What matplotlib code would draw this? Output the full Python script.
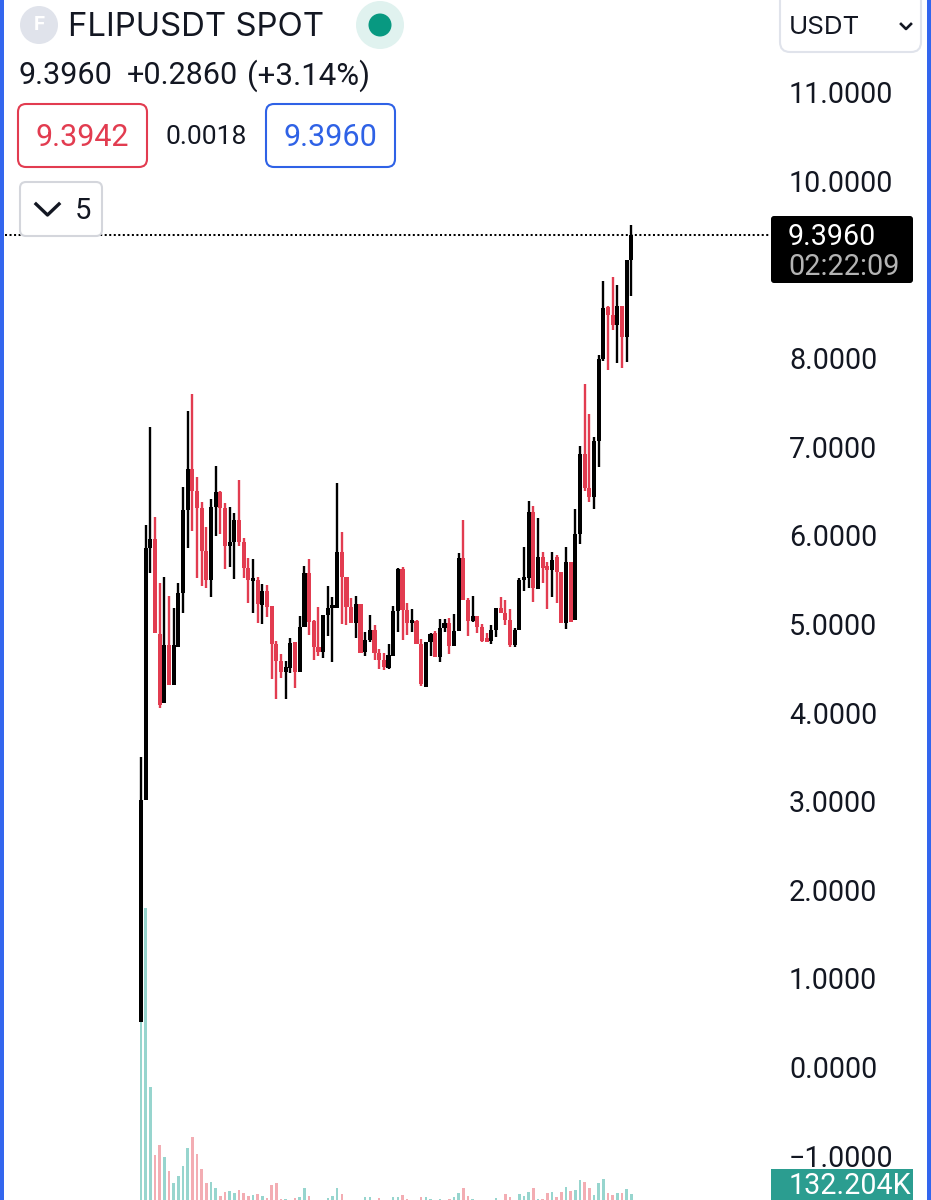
import numpy as np
import matplotlib
matplotlib.use("Agg")
import matplotlib.pyplot as plt
from matplotlib.patches import FancyBboxPatch, Circle, Rectangle

plt.rcParams['font.family'] = ['Inter', 'DejaVu Sans']

# candles
opens = [0.51, 3.01, 5.86, 5.96, 4.89, 4.11, 4.76, 4.31, 4.74, 5.35, 6.29, 6.75, 6.50, 6.31, 5.82, 5.50, 6.32, 6.49,
         6.31, 5.88, 5.93, 6.17, 5.93, 5.63, 5.49, 5.50, 5.21, 5.37, 5.20, 4.77, 4.58, 4.46, 4.50, 4.80, 4.46, 4.97,
         5.58, 5.03, 4.74, 4.68, 5.10, 5.18, 5.18, 5.81, 5.53, 5.19, 5.01, 5.23, 4.68, 4.82, 4.93, 4.67, 4.59, 4.50,
         4.64, 5.15, 5.62, 5.16, 5.01, 5.03, 4.77, 4.29, 4.80, 4.90, 4.63, 4.95, 5.01, 4.75, 4.92, 5.74, 5.27, 5.03,
         5.09, 4.97, 4.84, 4.81, 4.93, 5.18, 5.12, 5.05, 4.76, 4.93, 5.50, 5.52, 6.26, 5.40, 5.76, 5.65, 5.61, 5.76,
         5.59, 5.01, 5.70, 5.05, 6.02, 6.92, 6.53, 6.43, 7.07, 7.99, 8.58, 8.49, 8.37, 8.59, 8.24, 9.11]
highs = [3.50, 6.12, 7.22, 6.21, 5.46, 5.53, 5.32, 5.18, 5.46, 6.55, 7.40, 7.60, 6.66, 6.38, 6.09, 6.41, 6.78, 6.50,
         6.37, 6.32, 6.25, 6.63, 5.97, 5.74, 5.73, 5.53, 5.45, 5.44, 5.20, 4.81, 4.66, 4.58, 4.84, 4.80, 5.09, 5.65,
         5.73, 5.05, 5.19, 5.10, 5.43, 5.30, 6.59, 6.04, 5.53, 5.29, 5.32, 5.23, 4.91, 5.10, 4.99, 4.72, 4.67, 4.77,
         5.20, 5.63, 5.64, 5.24, 5.17, 5.05, 4.83, 4.80, 4.90, 4.92, 5.06, 5.06, 5.07, 5.11, 5.80, 6.17, 5.29, 5.32,
         5.09, 5.00, 4.90, 4.99, 5.18, 5.30, 5.27, 5.17, 4.95, 5.52, 5.87, 6.39, 6.33, 6.20, 5.81, 5.70, 5.81, 5.78,
         5.59, 5.87, 5.70, 6.30, 7.01, 7.71, 7.37, 7.11, 8.04, 8.87, 8.59, 8.92, 8.83, 8.59, 9.11, 9.50]
lows = [0.51, 3.01, 5.58, 4.90, 4.05, 4.11, 4.31, 4.31, 4.74, 5.12, 5.86, 6.05, 5.52, 5.43, 5.41, 5.30, 5.99, 6.02,
        5.62, 5.64, 5.51, 5.88, 5.52, 5.24, 5.12, 5.01, 5.00, 5.08, 4.38, 4.15, 4.39, 4.15, 4.45, 4.28, 4.46, 4.97,
        4.88, 4.59, 4.64, 4.62, 4.86, 4.57, 5.18, 5.00, 4.99, 5.01, 4.84, 4.67, 4.64, 4.80, 4.59, 4.49, 4.48, 4.49,
        4.64, 4.91, 4.82, 4.88, 4.91, 4.77, 4.30, 4.29, 4.64, 4.63, 4.57, 4.91, 4.66, 4.75, 4.92, 5.27, 4.86, 5.02,
        4.90, 4.80, 4.80, 4.77, 4.85, 5.12, 4.99, 4.74, 4.74, 4.93, 5.37, 5.41, 5.25, 5.40, 5.46, 5.17, 5.30, 5.24,
        5.01, 4.94, 5.02, 5.05, 5.90, 6.50, 6.38, 6.30, 6.77, 7.97, 7.87, 8.32, 7.95, 7.89, 7.96, 8.70]
closes = [3.01, 5.86, 5.96, 4.90, 4.09, 4.76, 4.31, 4.76, 5.35, 6.29, 6.75, 6.50, 6.31, 5.82, 5.50, 6.32, 6.49, 6.31,
          5.88, 5.93, 6.17, 5.93, 5.63, 5.50, 5.51, 5.23, 5.37, 5.19, 4.77, 4.58, 4.46, 4.51, 4.79, 4.46, 4.97, 5.58,
          5.02, 4.74, 4.68, 5.10, 5.18, 5.19, 5.81, 5.53, 5.19, 5.01, 5.23, 4.67, 4.82, 4.93, 4.67, 4.59, 4.51, 4.65,
          5.15, 5.62, 5.16, 5.01, 5.03, 4.77, 4.32, 4.80, 4.89, 4.63, 4.95, 5.01, 4.75, 4.92, 5.74, 5.27, 5.03, 5.09,
          4.97, 4.81, 4.80, 4.93, 5.18, 5.12, 5.05, 4.76, 4.93, 5.50, 5.52, 6.26, 5.41, 5.76, 5.63, 5.61, 5.72, 5.59,
          5.01, 5.70, 5.02, 6.02, 6.92, 6.53, 6.43, 7.07, 7.99, 8.57, 8.49, 8.37, 8.59, 8.24, 9.11, 9.396]
# volume in K
volumes = [2220, 3564, 1416, 600, 720, 576, 408, 264, 348, 468, 684, 816, 612, 432, 264, 276, 204, 108,
           156, 168, 144, 180, 144, 108, 120, 132, 108, 84, 240, 264, 72, 72, 48, 84, 96, 204,
           108, 48, 48, 48, 84, 108, 204, 132, 48, 48, 48, 48, 96, 96, 48, 84, 48, 48,
           96, 96, 120, 72, 48, 48, 96, 96, 72, 48, 72, 48, 72, 96, 144, 204, 108, 72,
           48, 48, 48, 48, 84, 48, 132, 96, 48, 132, 108, 156, 204, 72, 72, 144, 156, 96,
           156, 216, 168, 180, 300, 276, 204, 120, 264, 312, 144, 120, 144, 144, 192, 132.204]

price_ticks = [-1, 0, 1, 2, 3, 4, 5, 6, 7, 8, 10, 11]

RED = "#e23c50"
BLUE = "#2f62e6"
DARK = "#131722"
NUM = ['Roboto', 'DejaVu Sans']  # digits have to be tabular, Inter's are not by default

fig = plt.figure(figsize=(9.31, 12), dpi=100)
ax = fig.add_axes([0, 0, 1, 1])
ax.set_xlim(-30.19, 169.16)
ax.set_ylim(-1.501, 12.043)

x = np.arange(len(opens))
o = np.array(opens)
c = np.array(closes)
up = c >= o
colors = ["black" if u else RED for u in up]

# volume sits on its own scale at the bottom
ax2 = ax.twinx()
ax2.set_ylim(60, 14460)
ax2.bar(x, volumes, width=0.55, color=["#97d5ce" if u else "#f3adb3" for u in up])
ax2.axis("off")
ax.set_zorder(ax2.get_zorder() + 1)
ax.patch.set_visible(False)
fig.patch.set_facecolor("white")

ax.vlines(x, lows, highs, colors=colors, linewidth=1.7)
ax.bar(x, np.maximum(np.abs(c - o), 0.03), bottom=np.minimum(o, c), width=0.88, color=colors)
ax.axhline(closes[-1], xmin=5 / 931, xmax=770 / 931, color="black", linewidth=1.45, linestyle=(0, (1, 1.25)), zorder=1)

ax.set_xticks([])
ax.yaxis.tick_right()
ax.set_yticks(price_ticks)
ax.set_yticklabels([f"{t:.4f}".replace("-", "\u2212") for t in price_ticks], fontsize=20.6, color=DARK, family=NUM)
ax.tick_params(axis="y", length=0, pad=-102.3)
for s in ax.spines.values():
    s.set_visible(False)

# header widgets in pixel coordinates
ui = fig.add_axes([0, 0, 1, 1], zorder=10)
ui.set_xlim(0, 931)
ui.set_ylim(1200, 0)
ui.axis("off")
ui.patch.set_visible(False)


def box(x0, y0, x1, y1, edge, face="white", lw=1.5, rad=8):
    ui.add_patch(FancyBboxPatch((x0 + rad, y0 + rad), x1 - x0 - 2 * rad, y1 - y0 - 2 * rad,
                                boxstyle=f"round,pad={rad},rounding_size={rad}",
                                edgecolor=edge, facecolor=face, linewidth=lw))


ui.add_patch(Rectangle((0, 0), 4, 1200, color="#3366ee", linewidth=0))
ui.add_patch(Rectangle((927, 0), 4, 1200, color="#3366ee", linewidth=0))

ui.add_patch(Circle((39, 25), 19, color="#e0e3eb", linewidth=0))
ui.text(39, 25, "F", color="white", fontsize=14, fontweight="bold", ha="center", va="center")
ui.text(68, 28, "FLIPUSDT SPOT", color=DARK, fontsize=23.7, ha="left", va="center")
ui.add_patch(Circle((380, 25), 24, color="#e0f2ef", linewidth=0))
ui.add_patch(Circle((380, 25), 11.5, color="#089981", linewidth=0))

ui.text(18, 76, "9.3960", color=DARK, fontsize=22, ha="left", va="center", family=NUM)
ui.text(127, 76, "+0.2860", color=DARK, fontsize=22, ha="left", va="center", family=NUM)
ui.text(247, 76, "(+3.14%)", color=DARK, fontsize=22.5, ha="left", va="center", family=NUM)

box(18, 104, 147, 167, RED)
ui.text(82.5, 137, "9.3942", color=RED, fontsize=22, ha="center", va="center", family=NUM)
ui.text(206, 137, "0.0018", color=DARK, fontsize=19, ha="center", va="center", family=NUM)
box(266, 104, 395, 167, BLUE)
ui.text(330.5, 137, "9.3960", color=BLUE, fontsize=22, ha="center", va="center", family=NUM)

box(20, 182, 102, 236, "#d4d6dc", lw=1.5, rad=6)
ui.plot([36, 47.5, 59], [204, 215, 204], color=DARK, linewidth=2.4)
ui.text(83, 211, "5", color=DARK, fontsize=21, ha="center", va="center", family=NUM)

box(780, -10, 921, 52, "#e0e3eb", rad=10)
ui.text(789, 27, "USDT", color=DARK, fontsize=18.7, ha="left", va="center")
ui.plot([901, 906, 911], [24, 29, 24], color=DARK, linewidth=1.9)

box(771, 216, 913, 283, "black", face="black", lw=0, rad=3)
ui.text(788, 237, "9.3960", color="white", fontsize=20.6, ha="left", va="center", family=NUM)
ui.text(788, 267, "02:22:09", color="#b4b4b4", fontsize=20.8, ha="left", va="center", family=NUM)

ui.add_patch(Rectangle((771, 1169), 142, 31, color="#2b9d90", linewidth=0))
ui.text(789, 1185.5, "132.204K", color="white", fontsize=20.6, ha="left", va="center", family=NUM)

fig.savefig("out.png", dpi=100)
